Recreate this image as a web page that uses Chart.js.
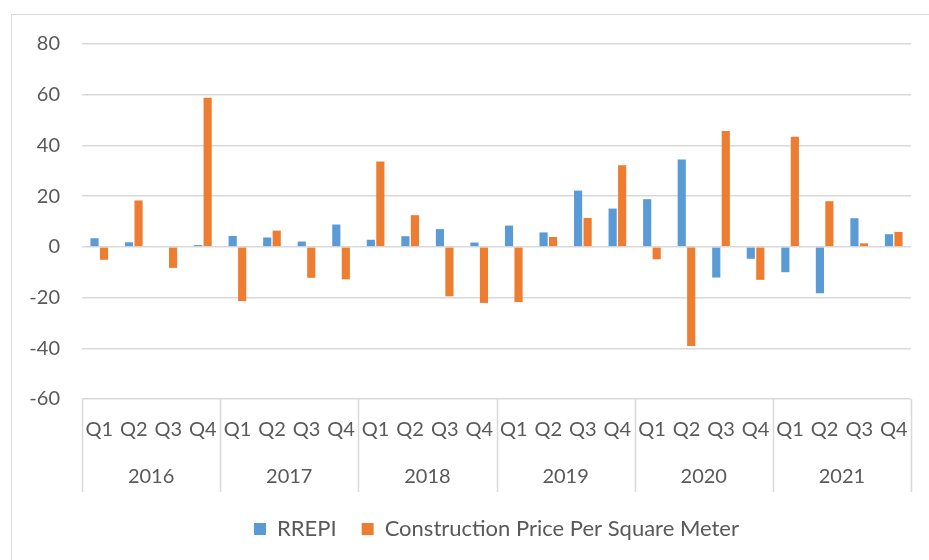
<!DOCTYPE html>
<html lang="en">
<head>
    <meta charset="UTF-8">
    <title>RREPI vs Construction Price Per Square Meter</title>
    <script src="https://cdn.jsdelivr.net/npm/chart.js"></script>
    <style>
        html, body {
            margin: 0;
            padding: 0;
            width: 929px;
            height: 560px;
            overflow: hidden;
            background: #ffffff;
        }
        #frame {
            position: absolute;
            left: 11px;
            top: 14px;
            width: 940px;
            height: 560px;
            border: 1px solid #d9d9d9;
        }
        #chart {
            position: absolute;
            left: 0;
            top: 0;
        }
    </style>
</head>
<body>
    <div id="frame"></div>
    <canvas id="chart" width="929" height="560"></canvas>
    <script>
        // data
        const years = ['2016', '2017', '2018', '2019', '2020', '2021'];
        const quarters = ['Q1', 'Q2', 'Q3', 'Q4'];
        const rrepi = [3.4, 1.8, 0, 0.7, 4.3, 3.7, 2.1, 8.8, 2.8, 4.2, 7.0, 1.7,
                       8.4, 5.7, 22.2, 15.1, 18.8, 34.5, -12.1, -4.7, -10.0, -18.3, 11.3, 5.0];
        const constructionPrice = [-5.1, 18.3, -8.3, 58.8, -21.4, 6.4, -12.2, -12.8, 33.7, 12.5, -19.5, -22.1,
                                   -21.8, 3.9, 11.4, 32.2, -4.9, -39.1, 45.7, -13.0, 43.4, 18.0, 1.4, 5.9];
        const yTicks = [-60, -40, -20, 0, 20, 40, 60, 80];

        const labels = years.flatMap(() => quarters);

        const fontFamily = 'Lato, "Open Sans", sans-serif';
        const textColor = '#595959';
        const gridColor = '#d9d9d9';

        // vertical separators between the year groups, below the plot
        const groupLines = {
            id: 'groupLines',
            afterDraw(chart) {
                const x = chart.scales.x;
                const x2 = chart.scales.x2;
                const step = x.getPixelForValue(1) - x.getPixelForValue(0);
                const ctx = chart.ctx;
                ctx.save();
                ctx.strokeStyle = gridColor;
                ctx.lineWidth = 1.5;
                for (let k = 0; k <= years.length; k++) {
                    const px = Math.round(x.getPixelForValue(k * quarters.length) - step / 2) + 0.5;
                    ctx.beginPath();
                    ctx.moveTo(px, chart.chartArea.bottom);
                    ctx.lineTo(px, x2.bottom - 1);
                    ctx.stroke();
                }
                ctx.restore();
            }
        };

        const ctx = document.getElementById('chart').getContext('2d');
        const chart = new Chart(ctx, {
            type: 'bar',
            data: {
                labels: labels,
                datasets: [{
                    label: 'RREPI',
                    data: rrepi,
                    backgroundColor: '#5b9bd5',
                    categoryPercentage: 0.55,
                    barPercentage: 0.86
                }, {
                    label: 'Construction Price Per Square Meter',
                    data: constructionPrice,
                    backgroundColor: '#ed7d31',
                    categoryPercentage: 0.55,
                    barPercentage: 0.86
                }]
            },
            options: {
                responsive: false,
                animation: false,
                layout: {
                    padding: { left: 0, right: 18, top: 44, bottom: 10 }
                },
                plugins: {
                    tooltip: { enabled: false },
                    legend: {
                        position: 'bottom',
                        fullSize: false,
                        labels: {
                            boxWidth: 12,
                            boxHeight: 12,
                            padding: 25,
                            color: textColor,
                            font: { family: fontFamily, size: 22 }
                        }
                    }
                },
                scales: {
                    y: {
                        min: -60,
                        max: 80,
                        afterFit(scale) { scale.width = 82; },
                        afterBuildTicks(scale) { scale.ticks = yTicks.map(v => ({ value: v })); },
                        grid: { color: gridColor, lineWidth: 1.5, drawTicks: false },
                        border: { display: false },
                        ticks: {
                            padding: 22,
                            color: textColor,
                            font: { family: fontFamily, size: 20 }
                        }
                    },
                    x: {
                        grid: { display: false, drawTicks: false },
                        border: { display: false },
                        ticks: {
                            padding: 19,
                            maxRotation: 0,
                            autoSkip: false,
                            color: textColor,
                            font: { family: fontFamily, size: 20 }
                        }
                    },
                    x2: {
                        type: 'category',
                        position: 'bottom',
                        labels: years,
                        offset: true,
                        grid: { display: false, drawTicks: false },
                        border: { display: false },
                        ticks: {
                            padding: 4,
                            maxRotation: 0,
                            autoSkip: false,
                            color: textColor,
                            font: { family: fontFamily, size: 20 }
                        }
                    }
                }
            },
            plugins: [groupLines]
        });
    </script>
</body>
</html>
